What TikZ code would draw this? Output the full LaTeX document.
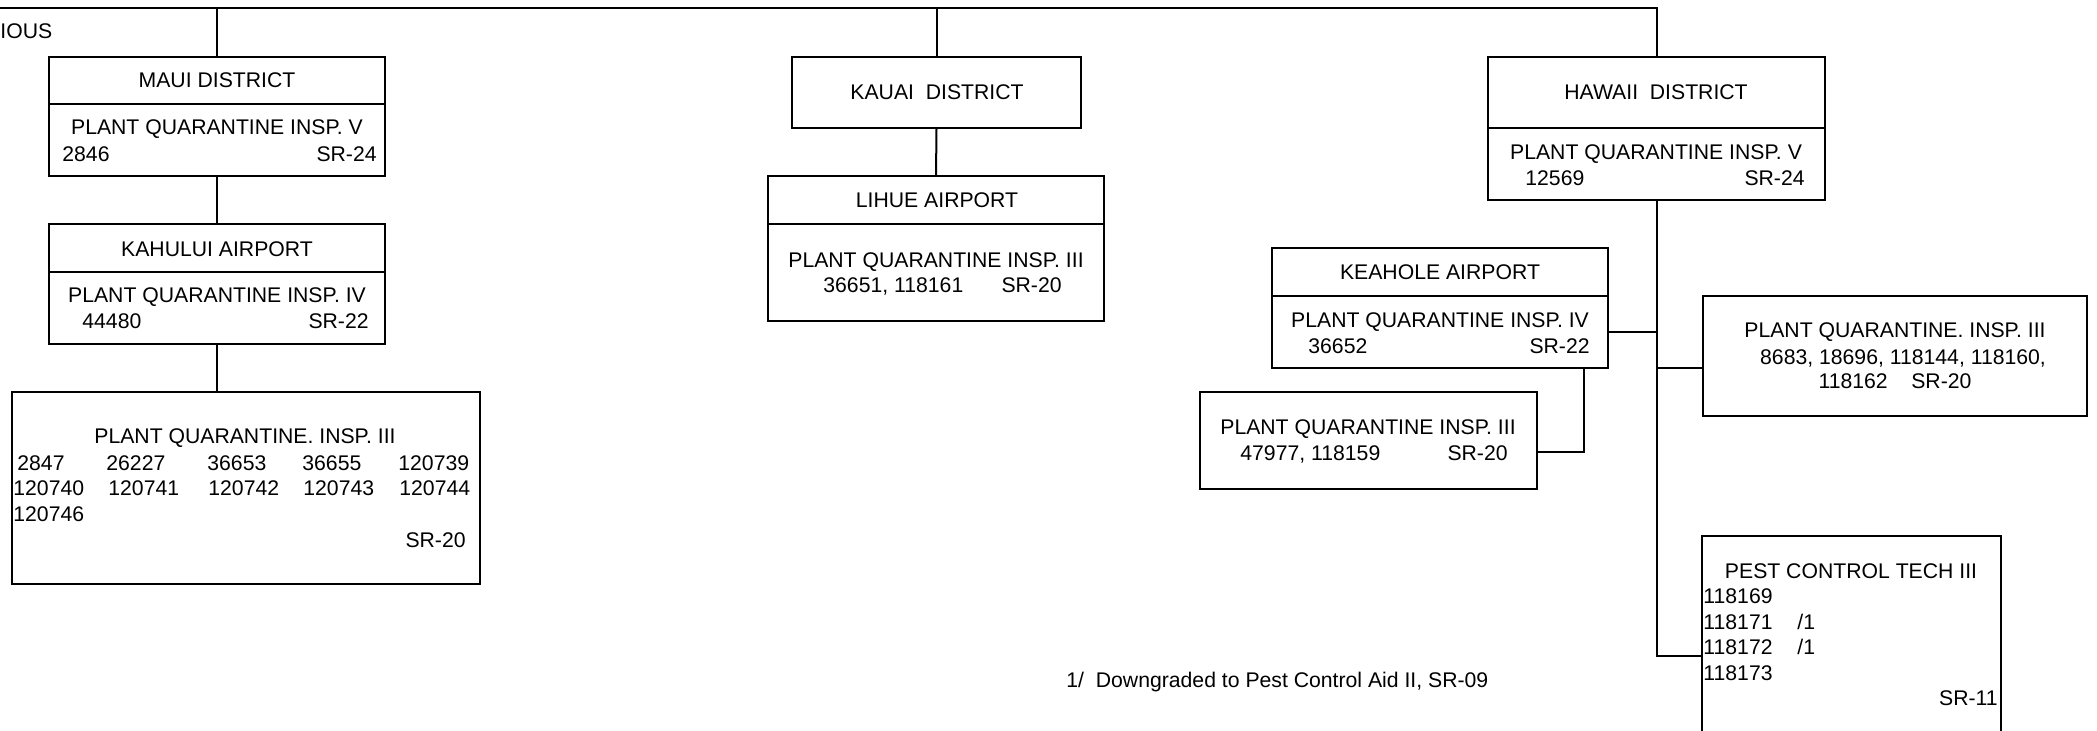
\documentclass[tikz,border=0pt]{standalone}
\usepackage{fontspec}
\setmainfont{Liberation Sans}
\usetikzlibrary{calc}
\tikzset{
 orgbox/.style={draw, line width=1pt, inner sep=0pt, outer sep=0pt},
 conn/.style={line width=1pt},
 lbl/.style={inner sep=0pt, anchor=base, font=\fontsize{10.6}{13}\selectfont},
 lbll/.style={lbl, anchor=base west},
 lblr/.style={lbl, anchor=base east},
}
\newcommand\orgrect[5]{\node[orgbox, minimum width={(#4-#2)*0.5pt}, minimum height={(#5-#3)*0.5pt}] (#1) at ({(#2+#4)/2},{(#3+#5)/2}) {};}
\begin{document}
\begin{tikzpicture}[x=0.5pt,y=-0.5pt]
\useasboundingbox (0,0) rectangle (2097,730);
\clip (0,0) rectangle (2097,730);

% boxes
\orgrect{maui}{49}{57}{385}{176}
\orgrect{kahului}{49}{224}{385}{344}
\orgrect{bigpq}{12}{392}{480}{584}
\orgrect{kauai}{792}{57}{1081}{128}
\orgrect{lihue}{768}{176}{1104}{321}
\orgrect{hawaii}{1488}{57}{1825}{200}
\orgrect{keahole}{1272}{248}{1608}{368}
\orgrect{pqk}{1200}{392}{1537}{489}
\orgrect{rpq}{1703}{296}{2087}{416}
\orgrect{pest}{1702}{536}{2001}{776}

% dividers
\draw[conn] (maui.west |- 0,104) -- (maui.east |- 0,104);
\draw[conn] (kahului.west |- 0,272) -- (kahului.east |- 0,272);
\draw[conn] (lihue.west |- 0,224) -- (lihue.east |- 0,224);
\draw[conn] (hawaii.west |- 0,128) -- (hawaii.east |- 0,128);
\draw[conn] (keahole.west |- 0,296) -- (keahole.east |- 0,296);

% connectors
\coordinate (topleft) at (0,8);
\draw[conn] (topleft) -- (topleft -| hawaii.north) -- (hawaii.north);
\draw[conn] (maui.north) -- (maui.north |- topleft);
\draw[conn] (kauai.north) -- (kauai.north |- topleft);
\draw[conn] (maui.south) -- (kahului.north);
\draw[conn] (kahului.south) -- (kahului.south |- bigpq.north);
\draw[conn] (kauai.south) -- (lihue.north);
\draw[conn] (hawaii.south) |- (pest.west);
\coordinate (kin) at ($(keahole.east)+(0,24)$);
\draw[conn] (kin) -- (kin -| hawaii.south);
\coordinate (rpqin) at ($(rpq.west)+(0,12)$);
\draw[conn] (rpqin) -- (rpqin -| hawaii.south);
\coordinate (kb) at ($(keahole.south east)+(-24,0)$);
\coordinate (pqkin) at ($(pqk.east)+(0,11.5)$);
\draw[conn] (kb) |- (pqkin);

% texts
\node[lbll] (ious) at (0,38) {IOUS};

\node[lbl] (mauiT) at (217,87) {MAUI DISTRICT};
\node[lbl] (mauiA) at (217,134) {PLANT QUARANTINE INSP. V};
\node[lbll] (mauiB) at (62,161) {2846};
\node[lblr] (mauiC) at (377,161) {SR-24};

\node[lbl] (kahT) at (217,256) {KAHULUI AIRPORT};
\node[lbl] (kahA) at (217,302) {PLANT QUARANTINE INSP. IV};
\node[lbll] (kahB) at (82,328) {44480};
\node[lblr] (kahC) at (369,328) {SR-22};

\node[lbl] (bigT) at (245,443) {PLANT QUARANTINE. INSP. III};
\node[lbll] (b1) at (17,470) {2847};
\node[lbll] (b2) at (106,470) {26227};
\node[lbll] (b3) at (207,470) {36653};
\node[lbll] (b4) at (302,470) {36655};
\node[lbll] (b5) at (398,470) {120739};
\node[lbll] (b6) at (13,495) {120740};
\node[lbll] (b7) at (108,495) {120741};
\node[lbll] (b8) at (208,495) {120742};
\node[lbll] (b9) at (303,495) {120743};
\node[lbll] (b10) at (399,495) {120744};
\node[lbll] (b11) at (13,521) {120746};
\node[lblr] (bsr) at (466,547) {SR-20};

\node[lbl] (kauT) at (937,99) {KAUAI\ \ DISTRICT};
\node[lbl] (lihT) at (937,207) {LIHUE AIRPORT};
\node[lbl] (lihA) at (936,267) {PLANT QUARANTINE INSP. III};
\node[lbll] (lihB) at (823,292) {36651, 118161};
\node[lblr] (lihC) at (1062,292) {SR-20};

\node[lbl] (hawT) at (1656,99) {HAWAII\ \ DISTRICT};
\node[lbl] (hawA) at (1656,159) {PLANT QUARANTINE INSP. V};
\node[lbll] (hawB) at (1525,185) {12569};
\node[lblr] (hawC) at (1805,185) {SR-24};

\node[lbl] (keaT) at (1440,279) {KEAHOLE AIRPORT};
\node[lbl] (keaA) at (1440,327) {PLANT QUARANTINE INSP. IV};
\node[lbll] (keaB) at (1308,353) {36652};
\node[lblr] (keaC) at (1590,353) {SR-22};

\node[lbl] (pqkA) at (1368,434) {PLANT QUARANTINE INSP. III};
\node[lbll] (pqkB) at (1240,460) {47977, 118159};
\node[lblr] (pqkC) at (1508,460) {SR-20};

\node[lbl] (rpqA) at (1895,337) {PLANT QUARANTINE. INSP. III};
\node[lbl] (rpqB) at (1903,364) {8683, 18696, 118144, 118160,};
\node[lbl] (rpqC) at (1895,388) {118162\ \ \ \ SR-20};

\node[lbl] (pestT) at (1851,578) {PEST CONTROL TECH III};
\node[lbll] (p1) at (1703,603) {118169};
\node[lbll] (p2) at (1703,629) {118171};
\node[lbll] (p2n) at (1797,629) {/1};
\node[lbll] (p3) at (1703,654) {118172};
\node[lbll] (p3n) at (1797,654) {/1};
\node[lbll] (p4) at (1703,680) {118173};
\node[lblr] (psr) at (1998,705) {SR-11};

\node[lbll] (foot) at (1066,687) {1/\ \ Downgraded to Pest Control Aid II, SR-09};
\end{tikzpicture}
\end{document}
